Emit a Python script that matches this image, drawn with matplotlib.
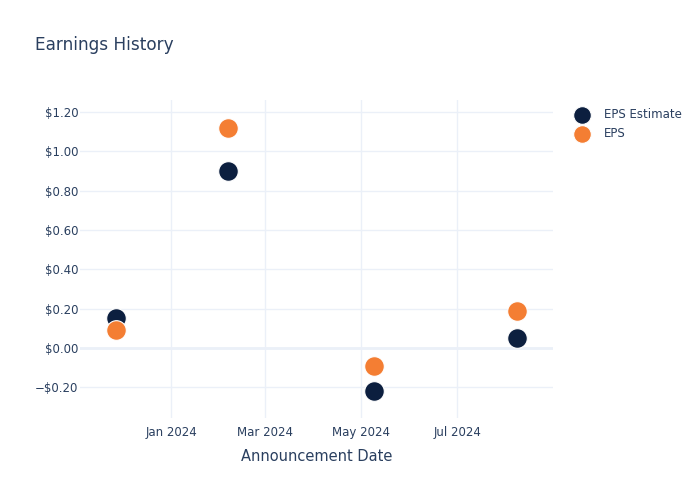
import matplotlib
matplotlib.use("Agg")
from matplotlib import pyplot as plt
import matplotlib.dates as mdates
import numpy as np
import datetime as dt

# announcement dates and values
dates = [dt.date(2023, 11, 27), dt.date(2024, 2, 6), dt.date(2024, 5, 9), dt.date(2024, 8, 8)]
eps_estimate = [0.15, 0.90, -0.22, 0.05]
eps_actual = [0.09, 1.12, -0.09, 0.19]

txt = '#2a3f5f'
navy = '#0c1f3f'
orange = '#f47e33'

plt.rcParams['font.family'] = ['DejaVu Sans']
fig = plt.figure(figsize=(7, 5), dpi=100)
ax = fig.add_axes([0.1143, 0.164, 0.6757, 0.636])

ax.scatter(dates, eps_estimate, s=200, color=navy, edgecolor='white', linewidth=0.8, zorder=3, label='EPS Estimate')
ax.scatter(dates, eps_actual, s=200, color=orange, edgecolor='white', linewidth=0.8, zorder=3, label='EPS')

ax.set_xlim(mdates.date2num(dt.date(2023, 11, 4)), mdates.date2num(dt.date(2024, 8, 31)))
ax.set_ylim(-0.356, 1.26)

ax.xaxis.set_major_locator(mdates.MonthLocator(bymonth=[1, 3, 5, 7]))
ax.xaxis.set_major_formatter(mdates.DateFormatter('%b %Y'))
yt = np.arange(-0.2, 1.21, 0.2)
ax.set_yticks(yt)
ax.set_yticklabels([('\u2212$%.2f' % abs(v)) if v < -1e-9 else '$%.2f' % abs(v) for v in yt])

ax.grid(True, color='#ebf0f8', linewidth=1)
ax.axhline(0, color='#ebf0f8', linewidth=2, zorder=1)
ax.set_axisbelow(True)
for s in ax.spines.values():
    s.set_visible(False)
ax.tick_params(length=0, colors=txt, labelsize=8.5)
ax.tick_params(axis='x', pad=6)
ax.tick_params(axis='y', pad=1)

ax.set_xlabel('Announcement Date', color=txt, fontsize=10.5, labelpad=7)
fig.text(0.05, 0.9, 'Earnings History', color=txt, fontsize=12.2)

leg = ax.legend(loc='upper left', bbox_to_anchor=(1.014, 1.009), frameon=False,
                fontsize=8.5, handletextpad=0.85, labelspacing=0.5, markerscale=0.9)
for t in leg.get_texts():
    t.set_color(txt)

fig.savefig('out.png', dpi=100)
